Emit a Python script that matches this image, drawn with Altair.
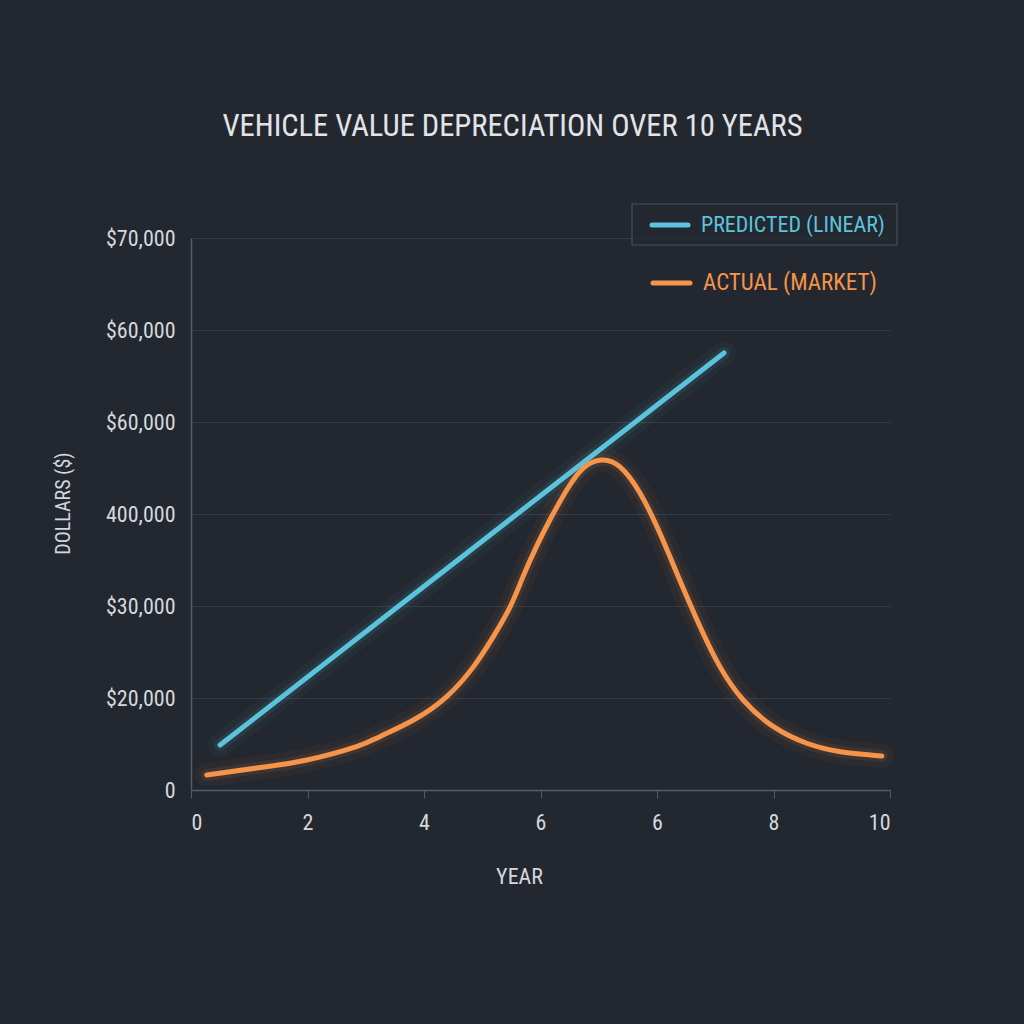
import json
import altair as alt
import pandas as pd

# ---- data ----
pred_years = [0.50, 9.15]
pred_values = [4890, 47500]

act_years = [0.27, 1.13, 1.99, 2.84, 3.24, 3.82, 4.39, 4.85, 5.19, 5.48, 5.70, 5.93, 6.16,
             6.45, 6.73, 7.04, 7.36, 7.71, 8.05, 8.39, 8.74, 9.08, 9.48, 10.00, 10.57,
             11.15, 11.86]
act_values = [1630, 2390, 3260, 4710, 5800, 7610, 10150, 13410, 16670, 19930, 23190, 26450,
              29350, 32610, 34970, 35870, 35140, 32250, 27900, 22830, 17750, 13410, 9780,
              6880, 5080, 4160, 3700]

series_names = ["PREDICTED (LINEAR)", "ACTUAL (MARKET)"]
series_colors = ["#5cc3dc", "#f5944a"]

x_tick_values = [0, 2, 4, 6, 8, 10, 12]
x_tick_labels = ["0", "2", "4", "6", "6", "8", "10"]
y_tick_values = [0, 10000, 20000, 30000, 40000, 50000, 60000]
y_tick_labels = ["0", "$20,000", "$30,000", "400,000", "$60,000", "$60,000", "$70,000"]

title_text = "VEHICLE VALUE DEPRECIATION OVER 10 YEARS"

rows = []
for x, v in zip(pred_years, pred_values):
    rows.append({"year": x, "value": v, "series": series_names[0]})
for x, v in zip(act_years, act_values):
    rows.append({"year": x, "value": v, "series": series_names[1]})
df = pd.DataFrame(rows)

FONT = "Roboto Condensed, Liberation Sans Narrow, Roboto, sans-serif"
BG = "#232830"
TXT = "#d4d8de"
W, H = 699, 552

x_label_expr = f"{json.dumps(x_tick_labels)}[round(datum.value / 2)]"
y_label_expr = f"{json.dumps(y_tick_labels)}[round(datum.value / 10000)]"

x_enc = alt.X("year:Q",
              scale=alt.Scale(domain=[0, 12], nice=False, zero=False),
              axis=alt.Axis(values=x_tick_values, labelExpr=x_label_expr, title="YEAR",
                            grid=False, ticks=True, tickSize=8, tickColor="#555b64",
                            domainColor="#555b64", labelColor=TXT, labelFontSize=22,
                            labelFont=FONT, labelPadding=14, titleFont=FONT,
                            titleFontSize=22, titleFontWeight="normal", titleColor=TXT,
                            titleX=328, titleY=86, titleBaseline="middle"))
y_enc = alt.Y("value:Q",
              scale=alt.Scale(domain=[0, 60000], nice=False),
              axis=alt.Axis(values=y_tick_values, labelExpr=y_label_expr, title="DOLLARS ($)",
                            grid=True, gridColor="#343a43", ticks=False, domainColor="#555b64",
                            labelColor=TXT, labelFontSize=22, labelFont=FONT,
                            labelPadding=16, titleFont=FONT, titleFontSize=20,
                            titleFontWeight="normal", titleColor=TXT, titleAngle=-90,
                            titleX=-128, titleY=265, titleAlign="center",
                            titleBaseline="middle"))
color_enc = alt.Color("series:N", scale=alt.Scale(domain=series_names, range=series_colors),
                      legend=None)

base = alt.Chart(df).encode(x=x_enc, y=y_enc, color=color_enc, detail="series:N")

glow_wide = base.mark_line(interpolate="natural", strokeWidth=24, opacity=0.045,
                           strokeCap="round")
glow_mid = base.mark_line(interpolate="natural", strokeWidth=12, opacity=0.09,
                          strokeCap="round")
main = base.mark_line(interpolate="natural", strokeWidth=5, strokeCap="round")

# ---- hand-made legend ----
leg_df = pd.DataFrame({"series": series_names, "color": series_colors})
leg_box = alt.Chart(pd.DataFrame({"k": [0]})).mark_rect(
    fill=BG, fillOpacity=0.6, stroke="#4a505a", strokeWidth=1.2
).encode(x=alt.value(441), x2=alt.value(706), y=alt.value(-34), y2=alt.value(7))

leg_line1 = alt.Chart(leg_df.iloc[[0]]).mark_rule(strokeWidth=5, strokeCap="round").encode(
    x=alt.value(461), x2=alt.value(497), y=alt.value(-13),
    color=alt.Color("color:N", scale=None))
leg_line2 = alt.Chart(leg_df.iloc[[1]]).mark_rule(strokeWidth=5, strokeCap="round").encode(
    x=alt.value(462), x2=alt.value(499), y=alt.value(45),
    color=alt.Color("color:N", scale=None))
leg_text1 = alt.Chart(leg_df.iloc[[0]]).mark_text(
    align="left", baseline="middle", font=FONT, fontSize=22).encode(
    x=alt.value(510), y=alt.value(-13), text="series:N",
    color=alt.Color("color:N", scale=None))
leg_text2 = alt.Chart(leg_df.iloc[[1]]).mark_text(
    align="left", baseline="middle", font=FONT, fontSize=23).encode(
    x=alt.value(512), y=alt.value(45), text="series:N",
    color=alt.Color("color:N", scale=None))

chart = alt.layer(glow_wide, glow_mid, main, leg_box, leg_line1, leg_line2,
                  leg_text1, leg_text2).properties(
    width=W, height=H,
    title=alt.TitleParams(title_text, font=FONT, fontSize=30.5, fontWeight="normal",
                          color="#e2e4e8", anchor="middle", frame="group", dx=-28,
                          offset=61),
    background=BG,
    padding={"left": 191, "top": 238, "right": 134, "bottom": 234},
    autosize=alt.AutoSizeParams(type="none"),
).configure_view(stroke=None).configure_axis(domainWidth=1.5)

chart.save("out.html", embed_options={"renderer": "svg", "actions": False})
